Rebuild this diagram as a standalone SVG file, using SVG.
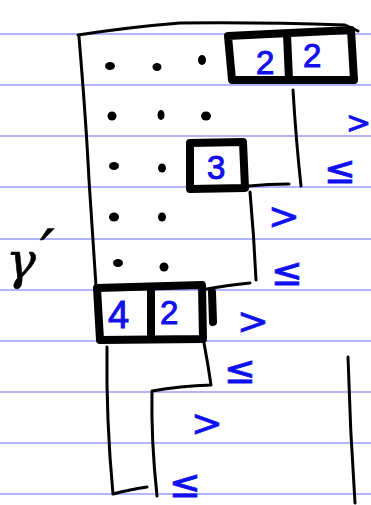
<svg xmlns="http://www.w3.org/2000/svg" width="371" height="505" viewBox="0 0 371 505">
<style>
.rule{stroke:#9a9aff;stroke-width:1.5}
.ink{fill:none;stroke:#000;stroke-width:3;stroke-linecap:round;stroke-linejoin:round}
.thick{fill:none;stroke:#000;stroke-width:8;stroke-linecap:round;stroke-linejoin:round}
.dot{fill:#000}
.num{font-family:"Liberation Sans",Arial,sans-serif;fill:#1010ee;stroke:#1010ee;stroke-width:1;font-size:33px}
.sym{font-family:"DejaVu Sans",sans-serif;fill:#1010ee;stroke:#1010ee;stroke-width:0.8;font-size:38px}
.lbl{font-family:"DejaVu Serif",serif;font-style:italic;fill:#000;stroke:#000;stroke-width:0.6;font-size:50px}
</style>
<rect width="371" height="505" fill="#fff"/>
<g id="ruling">
<line class="rule" x1="0" y1="34" x2="371" y2="34"/>
<line class="rule" x1="0" y1="85" x2="371" y2="85"/>
<line class="rule" x1="0" y1="136" x2="371" y2="136"/>
<line class="rule" x1="0" y1="187" x2="371" y2="187"/>
<line class="rule" x1="0" y1="239" x2="371" y2="239"/>
<line class="rule" x1="0" y1="290" x2="371" y2="290"/>
<line class="rule" x1="0" y1="341" x2="371" y2="341"/>
<line class="rule" x1="0" y1="392" x2="371" y2="392"/>
<line class="rule" x1="0" y1="443" x2="371" y2="443"/>
<line class="rule" x1="0" y1="494" x2="371" y2="494"/>
</g>
<g id="outline">
<path class="ink" d="M78,35 Q130,27 180,23 Q260,22 345,25 L358,31"/>
<path class="ink" d="M79,37 Q86,120 89,180 L96,286"/>
<path class="ink" d="M293,90 Q296,140 301,186"/>
<path class="ink" d="M289,184 Q268,184 249,186"/>
<path class="ink" d="M250,192 Q254,236 256,280"/>
<path class="ink" d="M201,290 Q228,285 250,283"/>
<path class="ink" d="M107,347 Q106,420 113,494 Q128,490 147,487"/>
<path class="ink" d="M204,343 Q208,364 211,385 Q180,386 152,391 Q151,440 157,496"/>
<path class="ink" d="M348,357 Q350,430 355,503"/>
</g>
<g id="box22">
<path class="thick" d="M228,36 Q290,33 351,30 L354,80 L232,80 Z"/>
<path class="thick" d="M287,34 L289,80"/>
<text class="num" x="256" y="74">2</text>
<text class="num" x="303" y="67">2</text>
</g>
<g id="box3">
<path class="thick" d="M190,143 L243,142 L245,188 L190,189 Z"/>
<text class="num" x="207" y="179">3</text>
</g>
<g id="box42">
<path class="thick" d="M97,288 L202,285 L203,339 L100,340 Z"/>
<path class="thick" d="M151,289 L151,338"/>
<path class="thick" d="M212,292 L213,322"/>
<text class="num" x="108" y="328" style="font-size:38px">4</text>
<text class="num" x="160" y="324">2</text>
</g>
<g id="dots">
<ellipse class="dot" cx="110" cy="66" rx="5" ry="4"/>
<ellipse class="dot" cx="157" cy="67" rx="4.5" ry="4"/>
<ellipse class="dot" cx="202" cy="60" rx="4" ry="5"/>
<ellipse class="dot" cx="112" cy="116" rx="4.5" ry="4.5"/>
<ellipse class="dot" cx="161" cy="115" rx="3.5" ry="5"/>
<ellipse class="dot" cx="206" cy="116" rx="5" ry="4.5"/>
<ellipse class="dot" cx="114" cy="166" rx="5" ry="4"/>
<ellipse class="dot" cx="162" cy="168" rx="4" ry="4.5"/>
<ellipse class="dot" cx="114" cy="217" rx="5" ry="4.5"/>
<ellipse class="dot" cx="162" cy="217" rx="4" ry="4.5"/>
<ellipse class="dot" cx="118" cy="263" rx="5" ry="4"/>
<ellipse class="dot" cx="164" cy="267" rx="4.5" ry="4.5"/>
</g>
<g id="relations">
<text class="sym" x="346" y="133" style="font-size:30px">&gt;</text>
<text class="sym" x="324" y="183">≤</text>
<text class="sym" x="268" y="229">&gt;</text>
<text class="sym" x="271" y="285">≤</text>
<text class="sym" x="237" y="334">&gt;</text>
<text class="sym" x="224" y="383">≤</text>
<text class="sym" x="191" y="436">&gt;</text>
<text class="sym" x="169" y="497">≤</text>
</g>
<g id="label">
<text class="lbl" x="6" y="278">γ</text>
<text class="lbl" x="40" y="275" style="font-size:64px">′</text>
</g>
</svg>
